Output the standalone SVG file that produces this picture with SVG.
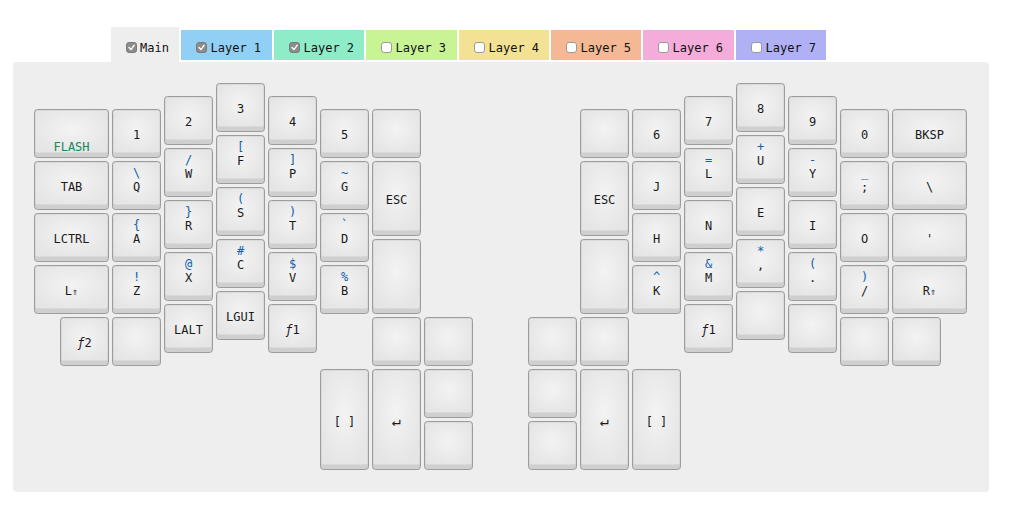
<svg xmlns="http://www.w3.org/2000/svg" width="1009" height="511" viewBox="0 0 1009 511">
<defs>
<radialGradient id="cap" cx="0.5" cy="0.45" r="0.6">
<stop offset="0" stop-color="#f3f3f3"/>
<stop offset="1" stop-color="#e5e5e5"/>
</radialGradient>
</defs>
<style>
.tab text{font-family:"DejaVu Sans Mono","Liberation Mono",monospace;font-size:12px;fill:#111}
.cbon{fill:#8c8c8c;stroke:#7a7a7a;stroke-width:1}
.cboff{fill:#fff;stroke:#9a9a9a;stroke-width:1}
.chk{fill:none;stroke:#fff;stroke-width:1.4;stroke-linecap:round;stroke-linejoin:round}
.kb{fill:#cfcfcf;stroke:#9c9c9c;stroke-width:1}
.kt{fill:url(#cap)}
.key text{font-family:"DejaVu Sans Mono","Liberation Mono",monospace;font-size:12px;text-anchor:middle;fill:#1a1a1a}
.key text.s{fill:#1060aa}
.key text.g{fill:#17875c}
.key text.ent{font-size:15px}
.sm{font-size:10px}
.it{font-style:italic}
</style>
<rect width="1009" height="511" fill="#fff"/>
<g id="tabs">
<g id="tab-main" class="tab"><rect x="111" y="27" width="68" height="36" fill="#eeeeee"/><rect class="cbon" x="126.5" y="42.5" width="10" height="10" rx="2.5"/><path class="chk" d="M129 47.6l2 2 3.2-4.4"/><text x="140" y="52">Main</text></g>
<g id="tab-l1" class="tab"><rect x="181" y="30" width="91" height="30" fill="#92cff4"/><rect class="cbon" x="196.5" y="42.5" width="10" height="10" rx="2.5"/><path class="chk" d="M199 47.6l2 2 3.2-4.4"/><text x="210.5" y="52">Layer 1</text></g>
<g id="tab-l2" class="tab"><rect x="274" y="30" width="90" height="30" fill="#8eecc9"/><rect class="cbon" x="289.5" y="42.5" width="10" height="10" rx="2.5"/><path class="chk" d="M292 47.6l2 2 3.2-4.4"/><text x="303.5" y="52">Layer 2</text></g>
<g id="tab-l3" class="tab"><rect x="366" y="30" width="91" height="30" fill="#c8f494"/><rect class="cboff" x="381.5" y="42.5" width="10" height="10" rx="2.5"/><text x="395.5" y="52">Layer 3</text></g>
<g id="tab-l4" class="tab"><rect x="459" y="30" width="90" height="30" fill="#f4e294"/><rect class="cboff" x="474.5" y="42.5" width="10" height="10" rx="2.5"/><text x="488.5" y="52">Layer 4</text></g>
<g id="tab-l5" class="tab"><rect x="551" y="30" width="90" height="30" fill="#f4b994"/><rect class="cboff" x="566.5" y="42.5" width="10" height="10" rx="2.5"/><text x="580.5" y="52">Layer 5</text></g>
<g id="tab-l6" class="tab"><rect x="643" y="30" width="91" height="30" fill="#f4acda"/><rect class="cboff" x="658.5" y="42.5" width="10" height="10" rx="2.5"/><text x="672.5" y="52">Layer 6</text></g>
<g id="tab-l7" class="tab"><rect x="736" y="30" width="90" height="30" fill="#b0b0f4"/><rect class="cboff" x="751.5" y="42.5" width="10" height="10" rx="2.5"/><text x="765.5" y="52">Layer 7</text></g>
</g>
<rect id="panel" x="13" y="62" width="976" height="430" rx="4" fill="#eeeeee"/>
<g id="connectors"></g>

<!-- LEFT HAND -->
<g id="k-flash" class="key"><rect class="kb" x="34.5" y="109.5" width="74" height="48" rx="3"/><rect class="kt" x="35.5" y="110.5" width="72" height="42" rx="2"/><text class="g" x="71.5" y="151">FLASH</text></g>
<g id="k-tab" class="key"><rect class="kb" x="34.5" y="161.5" width="74" height="48" rx="3"/><rect class="kt" x="35.5" y="162.5" width="72" height="42" rx="2"/><text x="71.5" y="191">TAB</text></g>
<g id="k-lctrl" class="key"><rect class="kb" x="34.5" y="213.5" width="74" height="48" rx="3"/><rect class="kt" x="35.5" y="214.5" width="72" height="42" rx="2"/><text x="71.5" y="243">LCTRL</text></g>
<g id="k-lshift" class="key"><rect class="kb" x="34.5" y="265.5" width="74" height="48" rx="3"/><rect class="kt" x="35.5" y="266.5" width="72" height="42" rx="2"/><text x="71.5" y="295">L<tspan class="sm">⇑</tspan></text></g>
<g id="k-f2" class="key"><rect class="kb" x="60.5" y="317.5" width="48" height="48" rx="3"/><rect class="kt" x="61.5" y="318.5" width="46" height="42" rx="2"/><text x="84.5" y="347"><tspan class="it">ƒ</tspan>2</text></g>

<g id="k-1" class="key"><rect class="kb" x="112.5" y="109.5" width="48" height="48" rx="3"/><rect class="kt" x="113.5" y="110.5" width="46" height="42" rx="2"/><text x="136.5" y="139">1</text></g>
<g id="k-q" class="key"><rect class="kb" x="112.5" y="161.5" width="48" height="48" rx="3"/><rect class="kt" x="113.5" y="162.5" width="46" height="42" rx="2"/><text class="s" x="136.5" y="176.5">\</text><text x="136.5" y="191">Q</text></g>
<g id="k-a" class="key"><rect class="kb" x="112.5" y="213.5" width="48" height="48" rx="3"/><rect class="kt" x="113.5" y="214.5" width="46" height="42" rx="2"/><text class="s" x="136.5" y="228.5">{</text><text x="136.5" y="243">A</text></g>
<g id="k-z" class="key"><rect class="kb" x="112.5" y="265.5" width="48" height="48" rx="3"/><rect class="kt" x="113.5" y="266.5" width="46" height="42" rx="2"/><text class="s" x="136.5" y="280.5">!</text><text x="136.5" y="295">Z</text></g>
<g id="k-l1-5" class="key"><rect class="kb" x="112.5" y="317.5" width="48" height="48" rx="3"/><rect class="kt" x="113.5" y="318.5" width="46" height="42" rx="2"/></g>

<g id="k-2" class="key"><rect class="kb" x="164.5" y="96.5" width="48" height="48" rx="3"/><rect class="kt" x="165.5" y="97.5" width="46" height="42" rx="2"/><text x="188.5" y="126">2</text></g>
<g id="k-w" class="key"><rect class="kb" x="164.5" y="148.5" width="48" height="48" rx="3"/><rect class="kt" x="165.5" y="149.5" width="46" height="42" rx="2"/><text class="s" x="188.5" y="163.5">/</text><text x="188.5" y="178">W</text></g>
<g id="k-r" class="key"><rect class="kb" x="164.5" y="200.5" width="48" height="48" rx="3"/><rect class="kt" x="165.5" y="201.5" width="46" height="42" rx="2"/><text class="s" x="188.5" y="215.5">}</text><text x="188.5" y="230">R</text></g>
<g id="k-x" class="key"><rect class="kb" x="164.5" y="252.5" width="48" height="48" rx="3"/><rect class="kt" x="165.5" y="253.5" width="46" height="42" rx="2"/><text class="s" x="188.5" y="267.5">@</text><text x="188.5" y="282">X</text></g>
<g id="k-lalt" class="key"><rect class="kb" x="164.5" y="304.5" width="48" height="48" rx="3"/><rect class="kt" x="165.5" y="305.5" width="46" height="42" rx="2"/><text x="188.5" y="334">LALT</text></g>

<g id="k-3" class="key"><rect class="kb" x="216.5" y="83.5" width="48" height="48" rx="3"/><rect class="kt" x="217.5" y="84.5" width="46" height="42" rx="2"/><text x="240.5" y="113">3</text></g>
<g id="k-f" class="key"><rect class="kb" x="216.5" y="135.5" width="48" height="48" rx="3"/><rect class="kt" x="217.5" y="136.5" width="46" height="42" rx="2"/><text class="s" x="240.5" y="150.5">[</text><text x="240.5" y="165">F</text></g>
<g id="k-s" class="key"><rect class="kb" x="216.5" y="187.5" width="48" height="48" rx="3"/><rect class="kt" x="217.5" y="188.5" width="46" height="42" rx="2"/><text class="s" x="240.5" y="202.5">(</text><text x="240.5" y="217">S</text></g>
<g id="k-c" class="key"><rect class="kb" x="216.5" y="239.5" width="48" height="48" rx="3"/><rect class="kt" x="217.5" y="240.5" width="46" height="42" rx="2"/><text class="s" x="240.5" y="254.5">#</text><text x="240.5" y="269">C</text></g>
<g id="k-lgui" class="key"><rect class="kb" x="216.5" y="291.5" width="48" height="48" rx="3"/><rect class="kt" x="217.5" y="292.5" width="46" height="42" rx="2"/><text x="240.5" y="321">LGUI</text></g>

<g id="k-4" class="key"><rect class="kb" x="268.5" y="96.5" width="48" height="48" rx="3"/><rect class="kt" x="269.5" y="97.5" width="46" height="42" rx="2"/><text x="292.5" y="126">4</text></g>
<g id="k-p" class="key"><rect class="kb" x="268.5" y="148.5" width="48" height="48" rx="3"/><rect class="kt" x="269.5" y="149.5" width="46" height="42" rx="2"/><text class="s" x="292.5" y="163.5">]</text><text x="292.5" y="178">P</text></g>
<g id="k-t" class="key"><rect class="kb" x="268.5" y="200.5" width="48" height="48" rx="3"/><rect class="kt" x="269.5" y="201.5" width="46" height="42" rx="2"/><text class="s" x="292.5" y="215.5">)</text><text x="292.5" y="230">T</text></g>
<g id="k-v" class="key"><rect class="kb" x="268.5" y="252.5" width="48" height="48" rx="3"/><rect class="kt" x="269.5" y="253.5" width="46" height="42" rx="2"/><text class="s" x="292.5" y="267.5">$</text><text x="292.5" y="282">V</text></g>
<g id="k-f1l" class="key"><rect class="kb" x="268.5" y="304.5" width="48" height="48" rx="3"/><rect class="kt" x="269.5" y="305.5" width="46" height="42" rx="2"/><text x="292.5" y="334"><tspan class="it">ƒ</tspan>1</text></g>

<g id="k-5" class="key"><rect class="kb" x="320.5" y="109.5" width="48" height="48" rx="3"/><rect class="kt" x="321.5" y="110.5" width="46" height="42" rx="2"/><text x="344.5" y="139">5</text></g>
<g id="k-g" class="key"><rect class="kb" x="320.5" y="161.5" width="48" height="48" rx="3"/><rect class="kt" x="321.5" y="162.5" width="46" height="42" rx="2"/><text class="s" x="344.5" y="176.5">~</text><text x="344.5" y="191">G</text></g>
<g id="k-d" class="key"><rect class="kb" x="320.5" y="213.5" width="48" height="48" rx="3"/><rect class="kt" x="321.5" y="214.5" width="46" height="42" rx="2"/><text class="s" x="344.5" y="228.5">`</text><text x="344.5" y="243">D</text></g>
<g id="k-b" class="key"><rect class="kb" x="320.5" y="265.5" width="48" height="48" rx="3"/><rect class="kt" x="321.5" y="266.5" width="46" height="42" rx="2"/><text class="s" x="344.5" y="280.5">%</text><text x="344.5" y="295">B</text></g>

<g id="k-l6-1" class="key"><rect class="kb" x="372.5" y="109.5" width="48" height="48" rx="3"/><rect class="kt" x="373.5" y="110.5" width="46" height="42" rx="2"/></g>
<g id="k-escl" class="key"><rect class="kb" x="372.5" y="161.5" width="48" height="74" rx="3"/><rect class="kt" x="373.5" y="162.5" width="46" height="68" rx="2"/><text x="396.5" y="204">ESC</text></g>
<g id="k-l6-3" class="key"><rect class="kb" x="372.5" y="239.5" width="48" height="74" rx="3"/><rect class="kt" x="373.5" y="240.5" width="46" height="68" rx="2"/></g>

<g id="k-lt1" class="key"><rect class="kb" x="372.5" y="317.5" width="48" height="48" rx="3"/><rect class="kt" x="373.5" y="318.5" width="46" height="42" rx="2"/></g>
<g id="k-lt2" class="key"><rect class="kb" x="424.5" y="317.5" width="48" height="48" rx="3"/><rect class="kt" x="425.5" y="318.5" width="46" height="42" rx="2"/></g>
<g id="k-lspc" class="key"><rect class="kb" x="320.5" y="369.5" width="48" height="100" rx="3"/><rect class="kt" x="321.5" y="370.5" width="46" height="94" rx="2"/><text x="344.5" y="425.5">[ ]</text></g>
<g id="k-lent" class="key"><rect class="kb" x="372.5" y="369.5" width="48" height="100" rx="3"/><rect class="kt" x="373.5" y="370.5" width="46" height="94" rx="2"/><text class="ent" x="396.5" y="425.5">↵</text></g>
<g id="k-lt3" class="key"><rect class="kb" x="424.5" y="369.5" width="48" height="48" rx="3"/><rect class="kt" x="425.5" y="370.5" width="46" height="42" rx="2"/></g>
<g id="k-lt4" class="key"><rect class="kb" x="424.5" y="421.5" width="48" height="48" rx="3"/><rect class="kt" x="425.5" y="422.5" width="46" height="42" rx="2"/></g>

<!-- RIGHT HAND -->
<g id="k-r0-1" class="key"><rect class="kb" x="580.5" y="109.5" width="48" height="48" rx="3"/><rect class="kt" x="581.5" y="110.5" width="46" height="42" rx="2"/></g>
<g id="k-escr" class="key"><rect class="kb" x="580.5" y="161.5" width="48" height="74" rx="3"/><rect class="kt" x="581.5" y="162.5" width="46" height="68" rx="2"/><text x="604.5" y="204">ESC</text></g>
<g id="k-r0-3" class="key"><rect class="kb" x="580.5" y="239.5" width="48" height="74" rx="3"/><rect class="kt" x="581.5" y="240.5" width="46" height="68" rx="2"/></g>

<g id="k-6" class="key"><rect class="kb" x="632.5" y="109.5" width="48" height="48" rx="3"/><rect class="kt" x="633.5" y="110.5" width="46" height="42" rx="2"/><text x="656.5" y="139">6</text></g>
<g id="k-j" class="key"><rect class="kb" x="632.5" y="161.5" width="48" height="48" rx="3"/><rect class="kt" x="633.5" y="162.5" width="46" height="42" rx="2"/><text x="656.5" y="191">J</text></g>
<g id="k-h" class="key"><rect class="kb" x="632.5" y="213.5" width="48" height="48" rx="3"/><rect class="kt" x="633.5" y="214.5" width="46" height="42" rx="2"/><text x="656.5" y="243">H</text></g>
<g id="k-k" class="key"><rect class="kb" x="632.5" y="265.5" width="48" height="48" rx="3"/><rect class="kt" x="633.5" y="266.5" width="46" height="42" rx="2"/><text class="s" x="656.5" y="280.5">^</text><text x="656.5" y="295">K</text></g>

<g id="k-7" class="key"><rect class="kb" x="684.5" y="96.5" width="48" height="48" rx="3"/><rect class="kt" x="685.5" y="97.5" width="46" height="42" rx="2"/><text x="708.5" y="126">7</text></g>
<g id="k-l" class="key"><rect class="kb" x="684.5" y="148.5" width="48" height="48" rx="3"/><rect class="kt" x="685.5" y="149.5" width="46" height="42" rx="2"/><text class="s" x="708.5" y="163.5">=</text><text x="708.5" y="178">L</text></g>
<g id="k-n" class="key"><rect class="kb" x="684.5" y="200.5" width="48" height="48" rx="3"/><rect class="kt" x="685.5" y="201.5" width="46" height="42" rx="2"/><text x="708.5" y="230">N</text></g>
<g id="k-m" class="key"><rect class="kb" x="684.5" y="252.5" width="48" height="48" rx="3"/><rect class="kt" x="685.5" y="253.5" width="46" height="42" rx="2"/><text class="s" x="708.5" y="267.5">&amp;</text><text x="708.5" y="282">M</text></g>
<g id="k-f1r" class="key"><rect class="kb" x="684.5" y="304.5" width="48" height="48" rx="3"/><rect class="kt" x="685.5" y="305.5" width="46" height="42" rx="2"/><text x="708.5" y="334"><tspan class="it">ƒ</tspan>1</text></g>

<g id="k-8" class="key"><rect class="kb" x="736.5" y="83.5" width="48" height="48" rx="3"/><rect class="kt" x="737.5" y="84.5" width="46" height="42" rx="2"/><text x="760.5" y="113">8</text></g>
<g id="k-u" class="key"><rect class="kb" x="736.5" y="135.5" width="48" height="48" rx="3"/><rect class="kt" x="737.5" y="136.5" width="46" height="42" rx="2"/><text class="s" x="760.5" y="150.5">+</text><text x="760.5" y="165">U</text></g>
<g id="k-e" class="key"><rect class="kb" x="736.5" y="187.5" width="48" height="48" rx="3"/><rect class="kt" x="737.5" y="188.5" width="46" height="42" rx="2"/><text x="760.5" y="217">E</text></g>
<g id="k-comma" class="key"><rect class="kb" x="736.5" y="239.5" width="48" height="48" rx="3"/><rect class="kt" x="737.5" y="240.5" width="46" height="42" rx="2"/><text class="s" x="760.5" y="254.5">*</text><text x="760.5" y="269">,</text></g>
<g id="k-r3-5" class="key"><rect class="kb" x="736.5" y="291.5" width="48" height="48" rx="3"/><rect class="kt" x="737.5" y="292.5" width="46" height="42" rx="2"/></g>

<g id="k-9" class="key"><rect class="kb" x="788.5" y="96.5" width="48" height="48" rx="3"/><rect class="kt" x="789.5" y="97.5" width="46" height="42" rx="2"/><text x="812.5" y="126">9</text></g>
<g id="k-y" class="key"><rect class="kb" x="788.5" y="148.5" width="48" height="48" rx="3"/><rect class="kt" x="789.5" y="149.5" width="46" height="42" rx="2"/><text class="s" x="812.5" y="163.5">-</text><text x="812.5" y="178">Y</text></g>
<g id="k-i" class="key"><rect class="kb" x="788.5" y="200.5" width="48" height="48" rx="3"/><rect class="kt" x="789.5" y="201.5" width="46" height="42" rx="2"/><text x="812.5" y="230">I</text></g>
<g id="k-dot" class="key"><rect class="kb" x="788.5" y="252.5" width="48" height="48" rx="3"/><rect class="kt" x="789.5" y="253.5" width="46" height="42" rx="2"/><text class="s" x="812.5" y="267.5">(</text><text x="812.5" y="282">.</text></g>
<g id="k-r4-5" class="key"><rect class="kb" x="788.5" y="304.5" width="48" height="48" rx="3"/><rect class="kt" x="789.5" y="305.5" width="46" height="42" rx="2"/></g>

<g id="k-0" class="key"><rect class="kb" x="840.5" y="109.5" width="48" height="48" rx="3"/><rect class="kt" x="841.5" y="110.5" width="46" height="42" rx="2"/><text x="864.5" y="139">0</text></g>
<g id="k-semi" class="key"><rect class="kb" x="840.5" y="161.5" width="48" height="48" rx="3"/><rect class="kt" x="841.5" y="162.5" width="46" height="42" rx="2"/><text class="s" x="864.5" y="176.5">_</text><text x="864.5" y="191">;</text></g>
<g id="k-o" class="key"><rect class="kb" x="840.5" y="213.5" width="48" height="48" rx="3"/><rect class="kt" x="841.5" y="214.5" width="46" height="42" rx="2"/><text x="864.5" y="243">O</text></g>
<g id="k-slash" class="key"><rect class="kb" x="840.5" y="265.5" width="48" height="48" rx="3"/><rect class="kt" x="841.5" y="266.5" width="46" height="42" rx="2"/><text class="s" x="864.5" y="280.5">)</text><text x="864.5" y="295">/</text></g>
<g id="k-r5-5" class="key"><rect class="kb" x="840.5" y="317.5" width="48" height="48" rx="3"/><rect class="kt" x="841.5" y="318.5" width="46" height="42" rx="2"/></g>

<g id="k-bksp" class="key"><rect class="kb" x="892.5" y="109.5" width="74" height="48" rx="3"/><rect class="kt" x="893.5" y="110.5" width="72" height="42" rx="2"/><text x="929.5" y="139">BKSP</text></g>
<g id="k-bslash" class="key"><rect class="kb" x="892.5" y="161.5" width="74" height="48" rx="3"/><rect class="kt" x="893.5" y="162.5" width="72" height="42" rx="2"/><text x="929.5" y="191">\</text></g>
<g id="k-quote" class="key"><rect class="kb" x="892.5" y="213.5" width="74" height="48" rx="3"/><rect class="kt" x="893.5" y="214.5" width="72" height="42" rx="2"/><text x="929.5" y="243">'</text></g>
<g id="k-rshift" class="key"><rect class="kb" x="892.5" y="265.5" width="74" height="48" rx="3"/><rect class="kt" x="893.5" y="266.5" width="72" height="42" rx="2"/><text x="929.5" y="295">R<tspan class="sm">⇑</tspan></text></g>
<g id="k-r6-5" class="key"><rect class="kb" x="892.5" y="317.5" width="48" height="48" rx="3"/><rect class="kt" x="893.5" y="318.5" width="46" height="42" rx="2"/></g>

<g id="k-rt1" class="key"><rect class="kb" x="528.5" y="317.5" width="48" height="48" rx="3"/><rect class="kt" x="529.5" y="318.5" width="46" height="42" rx="2"/></g>
<g id="k-rt2" class="key"><rect class="kb" x="580.5" y="317.5" width="48" height="48" rx="3"/><rect class="kt" x="581.5" y="318.5" width="46" height="42" rx="2"/></g>
<g id="k-rt3" class="key"><rect class="kb" x="528.5" y="369.5" width="48" height="48" rx="3"/><rect class="kt" x="529.5" y="370.5" width="46" height="42" rx="2"/></g>
<g id="k-rt4" class="key"><rect class="kb" x="528.5" y="421.5" width="48" height="48" rx="3"/><rect class="kt" x="529.5" y="422.5" width="46" height="42" rx="2"/></g>
<g id="k-rent" class="key"><rect class="kb" x="580.5" y="369.5" width="48" height="100" rx="3"/><rect class="kt" x="581.5" y="370.5" width="46" height="94" rx="2"/><text class="ent" x="604.5" y="425.5">↵</text></g>
<g id="k-rspc" class="key"><rect class="kb" x="632.5" y="369.5" width="48" height="100" rx="3"/><rect class="kt" x="633.5" y="370.5" width="46" height="94" rx="2"/><text x="656.5" y="425.5">[ ]</text></g>
</svg>
